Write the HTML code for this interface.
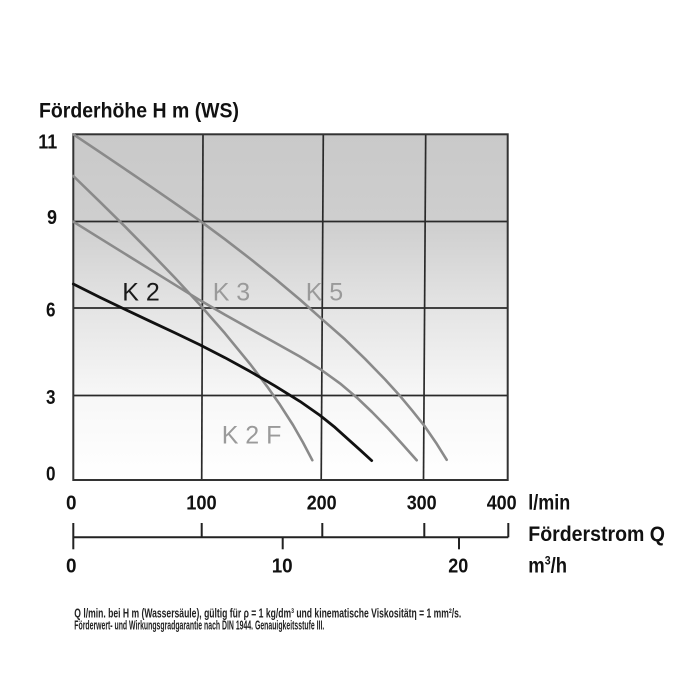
<!DOCTYPE html>
<html><head><meta charset="utf-8"><style>
html,body{margin:0;padding:0;background:#fff;}
svg{display:block;}
text{font-family:"Liberation Sans",Arial,sans-serif;}
</style></head><body>
<svg width="700" height="700" viewBox="0 0 700 700" xmlns="http://www.w3.org/2000/svg">
<defs>
<linearGradient id="bg" x1="0" y1="0" x2="0" y2="1">
<stop offset="0" stop-color="#c9c9c9"/>
<stop offset="0.251" stop-color="#cecece"/>
<stop offset="0.503" stop-color="#e4e4e4"/>
<stop offset="0.754" stop-color="#f7f7f7"/>
<stop offset="1" stop-color="#ffffff"/>
</linearGradient>
</defs>
<rect width="700" height="700" fill="#fff"/>
<!-- title -->
<text x="39" y="117.7" font-size="21" font-weight="bold" fill="#111" textLength="200" lengthAdjust="spacingAndGlyphs">Förderhöhe H m (WS)</text>
<!-- plot area -->
<rect x="73.3" y="134.3" width="434.4" height="345.7" fill="url(#bg)"/>
<g stroke="#2a2a2a" stroke-width="1.7" fill="none">
<line x1="73.3" y1="221.5" x2="507.7" y2="221.5"/>
<line x1="73.3" y1="308" x2="507.7" y2="308"/>
<line x1="73.3" y1="395.5" x2="507.7" y2="395.5"/>
<line x1="203" y1="134.3" x2="201.7" y2="480"/>
<line x1="323.3" y1="134.3" x2="321.2" y2="480"/>
<line x1="425.7" y1="134.3" x2="423.5" y2="480"/>
</g>
<rect x="73.3" y="134.3" width="434.4" height="345.7" fill="none" stroke="#333" stroke-width="2"/>
<!-- curves -->
<g fill="none" stroke-linejoin="round" stroke-linecap="round">
<polyline stroke="#8a8a8a" stroke-width="2.6" points="73.3,134.3 100,152.2 125,169.1 150,186.1 175,203.3 200,220.8 225,239.3 250,258.6 275,278.6 300,299.6 322,319.2 345,339.4 365,358.8 385,379.4 400,395.9 412,410.3 424,425.3 436,442.7 446.7,459.8"/>
<polyline stroke="#8a8a8a" stroke-width="2.6" points="73.3,221.7 100,238.3 125,253.8 150,269.3 175,284.8 200,300.3 225,314.8 250,328.8 275,342.6 300,356.6 320,369 340,383.4 357,397.7 372,412 387,427.3 402,443.8 416.7,460.3"/>
<polyline stroke="#8a8a8a" stroke-width="2.6" points="73.3,176 100,201.9 125,226.6 150,251.9 175,277.9 200,304.9 225,333.4 250,363.9 267,386.3 280,404.8 293,425 303,442.5 312.3,460.2"/>
<polyline stroke="#111" stroke-width="2.8" points="73.3,284 100,297.4 125,309.4 150,321.2 175,332.9 200,344.9 225,357.7 250,371.4 275,385.9 300,401.4 320,415.4 335,427.4 350,440.9 361,450.8 371.7,460.6"/>
</g>
<!-- curve labels -->
<text x="122.3" y="300.7" font-size="25" fill="#1a1a1a">K 2</text>
<text x="212.7" y="300.7" font-size="25" fill="#9a9a9a">K 3</text>
<text x="305.7" y="300.7" font-size="25" fill="#9a9a9a">K 5</text>
<text x="221.7" y="443.3" font-size="25" fill="#9a9a9a">K 2 F</text>
<!-- y labels -->
<g font-size="20" font-weight="bold" fill="#111">
<text x="38.3" y="148.3" textLength="19" lengthAdjust="spacingAndGlyphs">11</text>
<text x="47" y="224" textLength="10" lengthAdjust="spacingAndGlyphs">9</text>
<text x="46" y="316.7" textLength="9.5" lengthAdjust="spacingAndGlyphs">6</text>
<text x="46" y="404" textLength="9.5" lengthAdjust="spacingAndGlyphs">3</text>
<text x="46" y="480.5" textLength="9.5" lengthAdjust="spacingAndGlyphs">0</text>
</g>
<!-- x labels -->
<g font-size="20" font-weight="bold" fill="#111">
<text x="66" y="509.5" textLength="10.5" lengthAdjust="spacingAndGlyphs">0</text>
<text x="186.2" y="509.5" textLength="30.5" lengthAdjust="spacingAndGlyphs">100</text>
<text x="306.7" y="509.5" textLength="30" lengthAdjust="spacingAndGlyphs">200</text>
<text x="406.7" y="509.5" textLength="30" lengthAdjust="spacingAndGlyphs">300</text>
<text x="486.7" y="509.5" textLength="30" lengthAdjust="spacingAndGlyphs">400</text>
<text x="528.3" y="509.5" font-size="21" textLength="42" lengthAdjust="spacingAndGlyphs">l/min</text>
<text x="528.3" y="540.8" font-size="21" textLength="136.7" lengthAdjust="spacingAndGlyphs">Förderstrom Q</text>
<text x="66" y="572.5" textLength="10.5" lengthAdjust="spacingAndGlyphs">0</text>
<text x="271.7" y="572.5" textLength="21" lengthAdjust="spacingAndGlyphs">10</text>
<text x="448.3" y="572.5" textLength="20" lengthAdjust="spacingAndGlyphs">20</text>
<text transform="translate(528.3,572.5) scale(0.88,1)" font-size="21">m<tspan font-size="12" dy="-8">3</tspan><tspan dy="8">/h</tspan></text>
</g>
<!-- second axis -->
<g stroke="#222" stroke-width="2" fill="none">
<line x1="73" y1="537.3" x2="508.3" y2="537.3"/>
<line x1="73.3" y1="523" x2="73.3" y2="549.3"/>
<line x1="201.7" y1="523" x2="201.7" y2="537.3"/>
<line x1="322.3" y1="523" x2="322.3" y2="537.3"/>
<line x1="424.3" y1="523" x2="424.3" y2="537.3"/>
<line x1="508.3" y1="523" x2="508.3" y2="537.3"/>
<line x1="282.7" y1="537.3" x2="282.7" y2="549.3"/>
<line x1="459" y1="537.3" x2="459" y2="549.3"/>
</g>
<!-- footnote -->
<g font-size="12.5" font-weight="bold" fill="#222">
<text x="74.3" y="617.5" textLength="387" lengthAdjust="spacingAndGlyphs">Q l/min. bei H m (Wassersäule), gültig für ρ = 1 kg/dm³ und kinematische Viskositätη = 1 mm²/s.</text>
<text x="74.3" y="629.5" textLength="250" lengthAdjust="spacingAndGlyphs">Förderwert- und Wirkungsgradgarantie nach DIN 1944. Genauigkeitsstufe III.</text>
</g>
</svg>
</body></html>
